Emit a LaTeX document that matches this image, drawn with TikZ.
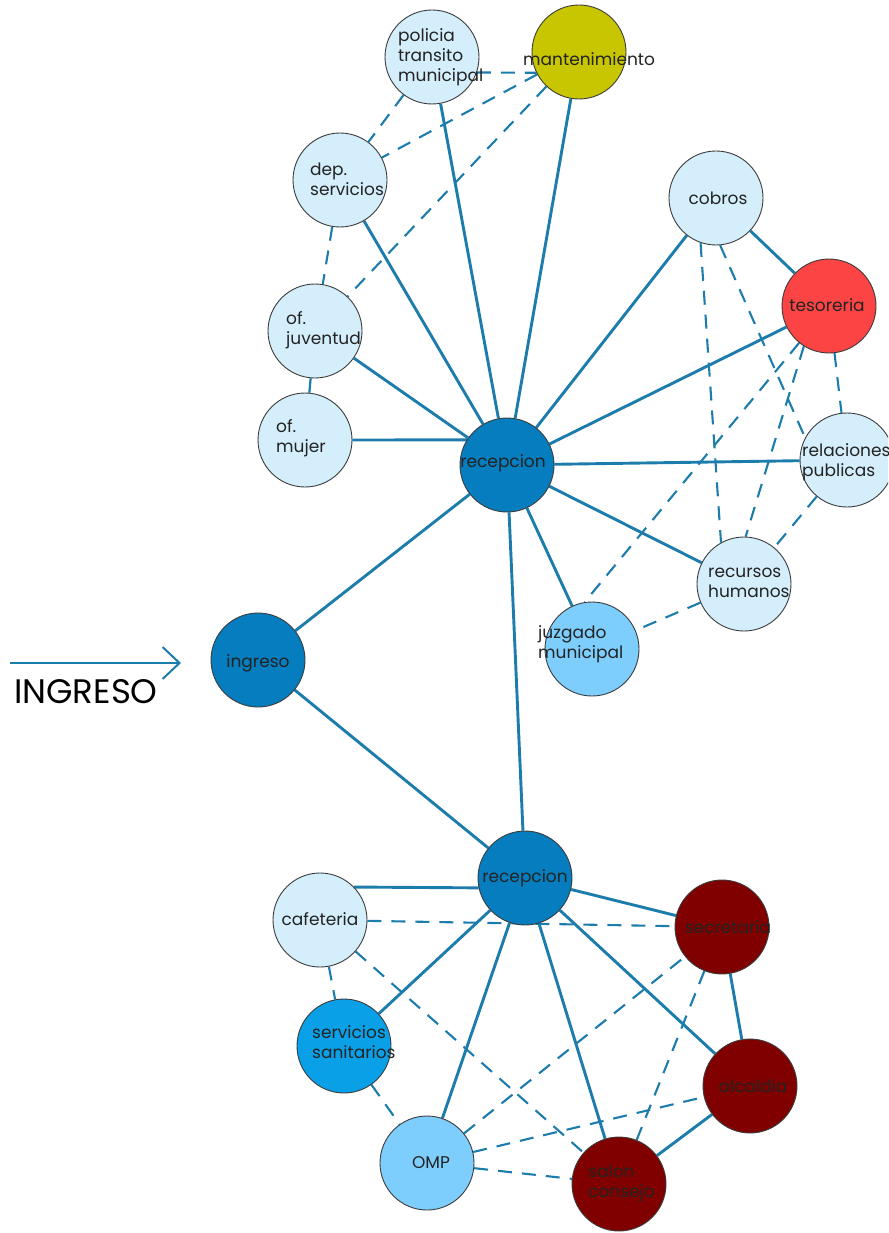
\documentclass[tikz,border=0pt]{standalone}
\usepackage{fontspec}
\setmainfont{Poppins}
\usetikzlibrary{arrows.meta}
\definecolor{lightc}{RGB}{212,238,251}
\definecolor{recc}{RGB}{5,125,190}
\definecolor{midc}{RGB}{125,206,252}
\definecolor{sanc}{RGB}{10,160,232}
\definecolor{tesc}{RGB}{252,68,68}
\definecolor{manc}{RGB}{200,198,0}
\definecolor{darkc}{RGB}{128,0,0}
\definecolor{edgecol}{RGB}{28,124,172}
\definecolor{bordergray}{RGB}{60,60,60}
\definecolor{txtcol}{RGB}{35,35,35}
\pgfdeclarelayer{bg}
\pgfsetlayers{bg,main}
\begin{document}
\begin{tikzpicture}[x=1pt,y=-1pt,
  circ/.style={circle, draw=bordergray, line width=0.9pt, minimum size=94pt, inner sep=0pt},
  lbl/.style={font=\fontsize{17}{20}\selectfont, text=txtcol, inner sep=0pt, align=left},
  link/.style={draw=edgecol, line width=2.9pt},
  dlink/.style={draw=edgecol, line width=2.1pt, dash pattern=on 14pt off 10pt},
]
\useasboundingbox (0,0) rectangle (888,1233);
\clip (0,0) rectangle (888,1233);
% circles top
\node[circ, fill=lightc] (pol) at (432,57) {};
\node[circ, fill=manc] (man) at (579,52) {};
\node[circ, fill=lightc] (dep) at (340,180) {};
\node[circ, fill=lightc] (juv) at (315,331) {};
\node[circ, fill=lightc] (muj) at (305,440) {};
\node[circ, fill=recc] (R1) at (507,465) {};
\node[circ, fill=lightc] (cob) at (716,198) {};
\node[circ, fill=tesc] (tes) at (829,306) {};
\node[circ, fill=lightc] (rel) at (847,460) {};
\node[circ, fill=lightc] (rh) at (744,584) {};
\node[circ, fill=midc] (juz) at (592,649) {};
\node[circ, fill=recc] (ing) at (258,660) {};
% circles bottom
\node[circ, fill=recc] (R2) at (525,878) {};
\node[circ, fill=lightc] (caf) at (320,920) {};
\node[circ, fill=sanc] (san) at (344,1046) {};
\node[circ, fill=midc] (omp) at (427,1163) {};
\node[circ, fill=darkc] (sal) at (619,1184) {};
\node[circ, fill=darkc] (alc) at (750,1086) {};
\node[circ, fill=darkc] (sec) at (722,927) {};
% labels
\node[lbl, anchor=west] (polT) at (398,57) {policia\\transito\\municipal};
\node[lbl, anchor=west] (manT) at (523,59) {mantenimiento};
\node[lbl, anchor=west] (depT) at (310,179) {dep.\\servicios};
\node[lbl, anchor=west] (juvT) at (286,330) {of.\\juventud};
\node[lbl, anchor=west] (mujT) at (276,438) {of.\\mujer};
\node[lbl] (R1T) at (503,463) {recepcion};
\node[lbl] (cobT) at (718,198) {cobros};
\node[lbl] (tesT) at (827,305) {tesoreria};
\node[lbl, anchor=west] (relT) at (802,462) {relaciones\\publicas};
\node[lbl, anchor=west] (rhT) at (708,583) {recursos\\humanos};
\node[lbl, anchor=west] (juzT) at (538,644) {juzgado\\municipal};
\node[lbl] (ingT) at (258,663) {ingreso};
\node[lbl] (R2T) at (525,878) {recepcion};
\node[lbl] (cafT) at (320,919) {cafeteria};
\node[lbl, anchor=west] (sanT) at (312,1042) {servicios\\sanitarios};
\node[lbl] (ompT) at (431,1163) {OMP};
\node[lbl, anchor=west] (salT) at (588,1183) {salon\\consejo};
\node[lbl] (alcT) at (753,1086) {alcaldia};
\node[lbl] (secT) at (728,927) {secretaria};
% entry arrow and caption
\coordinate (aS) at (10,663);
\coordinate (aE) at (181,663);
\draw[edgecol, line width=2pt, -{Straight Barb[length=17pt,width=32pt,line width=2pt]}] (aS) -- (aE);
\node[font=\fontsize{34}{34}\selectfont, anchor=west, inner sep=0pt, text=black] (capT) at (14,692) {INGRESO};
\begin{pgfonlayer}{bg}
% top solid
\draw[link] (muj.0) -- (R1.148);
\draw[link] (R1) -- (juv);
\draw[link] (R1) -- (dep);
\draw[link] (R1) -- (pol);
\draw[link] (R1) -- (man);
\draw[link] (R1) -- (cob);
\draw[link] (R1) -- (tes);
\draw[link] (R1) -- (rel);
\draw[link] (R1) -- (rh);
\draw[link] (R1) -- (juz);
\draw[link] (R1) -- (ing);
\draw[link] (R1) -- (R2);
\draw[link] (ing) -- (R2);
\draw[link] (cob) -- (tes);
\draw[link, line width=2.2pt] (juv) -- (muj);
% top dashed
\draw[dlink] (pol.-19) -- (man.-154);
\draw[dlink] (pol) -- (dep);
\draw[dlink] (man) -- (dep);
\draw[dlink] (man) -- (juv);
\draw[dlink] (dep) -- (juv);
\draw[dlink] (cob.-109) -- (rh.119);
\draw[dlink] (cob.-85) -- (rel.152);
\draw[dlink] (tes) -- (rel);
\draw[dlink] (tes.-129) -- (juz.99);
\draw[dlink] (tes.-122) -- (rh.88);
\draw[dlink] (rel) -- (rh);
\draw[dlink] (rh) -- (juz);
% bottom solid
\draw[link] (caf.44) -- (R2.192);
\draw[link] (R2) -- (san);
\draw[link] (R2) -- (omp);
\draw[link] (R2) -- (sal);
\draw[link] (R2) -- (alc);
\draw[link] (R2) -- (sec);
\draw[link] (sec) -- (alc);
\draw[link] (alc) -- (sal);
% bottom dashed
\draw[dlink] (caf) -- (sec);
\draw[dlink] (caf) -- (san);
\draw[dlink] (caf) -- (sal);
\draw[dlink] (san) -- (omp);
\draw[dlink] (omp) -- (sec);
\draw[dlink] (omp) -- (alc);
\draw[dlink] (omp) -- (sal);
\draw[dlink] (sec) -- (sal);
\end{pgfonlayer}
\end{tikzpicture}
\end{document}
